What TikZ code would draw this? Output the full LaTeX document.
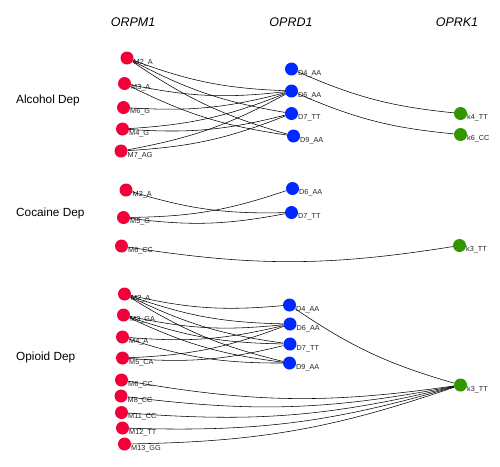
\documentclass[tikz,border=0pt]{standalone}
\usepackage{fontspec}
\setmainfont{Liberation Sans}
\definecolor{redc}{RGB}{242,0,58}
\definecolor{bluec}{RGB}{0,40,255}
\definecolor{greenc}{RGB}{50,150,0}
\newcommand\gnode[5]{\node[#1] (#2) at (#3,#4) {};\node[lab] (#2l) at (#3+6.5,#4+4.5) {#5};}
\begin{document}
\begin{tikzpicture}[x=1pt,y=-1pt,
  rn/.style={circle,fill=redc,minimum size=13pt,inner sep=0},
  bn/.style={circle,fill=bluec,minimum size=13pt,inner sep=0},
  gn/.style={circle,fill=greenc,minimum size=13pt,inner sep=0},
  lab/.style={font=\fontsize{7.3}{7.3}\selectfont,anchor=west,inner sep=0,text=black!85},
  hdr/.style={font=\fontsize{12.5}{12.5}\selectfont\itshape,inner sep=0},
  grp/.style={font=\fontsize{11.8}{11.8}\selectfont,anchor=west,inner sep=0},
  edge/.style={draw,line width=0.55pt,bend right=9}]
\useasboundingbox (0,0) rectangle (500,466);
\fill[white] (0,0) rectangle (500,466);
% headers
\node[hdr] (h1) at (133,22) {ORPM1};
\node[hdr] (h2) at (291,22) {OPRD1};
\node[hdr] (h3) at (457,22) {OPRK1};
% groups
\node[grp] (g1) at (16,100) {Alcohol Dep};
\node[grp] (g2) at (16,213) {Cocaine Dep};
\node[grp] (g3) at (16,357) {Opioid Dep};
% Alcohol
\gnode{rn}{a1}{127}{58}{M2\_A}
\gnode{rn}{a2}{124.5}{83.5}{M3\_A}
\gnode{rn}{a3}{123.5}{107.5}{M6\_G}
\gnode{rn}{a4}{122.5}{129}{M4\_G}
\gnode{rn}{a5}{121}{151}{M7\_AG}
\gnode{bn}{ad4}{291.5}{69}{D4\_AA}
\gnode{bn}{ad6}{291.5}{91}{D6\_AA}
\gnode{bn}{ad7}{291.5}{113.5}{D7\_TT}
\gnode{bn}{ad9}{293.5}{136}{D9\_AA}
\gnode{gn}{ak4}{460.5}{113.5}{k4\_TT}
\gnode{gn}{ak6}{460.5}{134.5}{k6\_CC}
% Cocaine
\gnode{rn}{c1}{126}{190}{M2\_A}
\gnode{rn}{c2}{123.5}{217.5}{M5\_G}
\gnode{rn}{c3}{121.5}{246}{M6\_CC}
\gnode{bn}{cd6}{292.5}{188.5}{D6\_AA}
\gnode{bn}{cd7}{291.5}{212.5}{D7\_TT}
\gnode{gn}{ck3}{459.5}{245.5}{k3\_TT}
% Opioid
\gnode{rn}{o1}{124.5}{294}{M2\_A}
\gnode{rn}{o2}{123.5}{315}{M3\_GA}
\gnode{rn}{o3}{122.5}{337}{M4\_A}
\gnode{rn}{o4}{122.5}{358}{M5\_CA}
\gnode{rn}{o5}{121.5}{380}{M6\_CC}
\gnode{rn}{o6}{121}{396}{M8\_CC}
\gnode{rn}{o7}{121.5}{412.5}{M11\_CC}
\gnode{rn}{o8}{122.5}{428}{M12\_TT}
\gnode{rn}{o9}{124.5}{444}{M13\_GG}
\gnode{bn}{od4}{289.5}{305}{D4\_AA}
\gnode{bn}{od6}{290}{324}{D6\_AA}
\gnode{bn}{od7}{290}{344}{D7\_TT}
\gnode{bn}{od9}{289.5}{363}{D9\_AA}
\gnode{gn}{ok3}{460.5}{385}{k3\_TT}
% Alcohol edges
\foreach \a/\b in {a1/ad6,a1/ad7,a1/ad9,a2/ad6,a2/ad9,a3/ad6,a4/ad6,a4/ad7,a5/ad6,a5/ad7,ad4/ak4,ad6/ak6}
  \draw[edge] (\a) to (\b);
% Cocaine edges
\foreach \a/\b in {c1/cd7,c2/cd6,c2/cd7,c3/ck3}
  \draw[edge] (\a) to (\b);
% Opioid edges
\foreach \a/\b in {o1/od4,o1/od6,o1/od7,o1/od9,o2/od6,o2/od7,o2/od9,o3/od6,o3/od9,o4/od6,o4/od7,od4/ok3,o5/ok3,o6/ok3,o7/ok3,o8/ok3,o9/ok3}
  \draw[edge] (\a) to (\b);
\end{tikzpicture}
\end{document}
